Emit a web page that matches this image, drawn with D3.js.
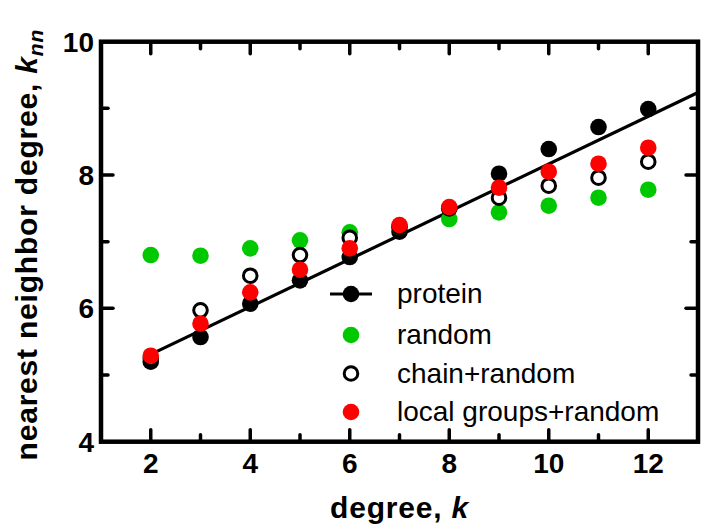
<!DOCTYPE html>
<html>
<head>
<meta charset="utf-8">
<script src="https://cdn.jsdelivr.net/npm/d3@7"></script>
<style>
  html, body { margin: 0; padding: 0; background: #fff; }
  svg { display: block; }
  text { font-family: "Liberation Sans", Arial, Helvetica, sans-serif; }
</style>
</head>
<body>
<svg id="chart" width="704" height="528"></svg>
<script>
// Degree k of each node class
const degree = [2, 3, 4, 5, 6, 7, 8, 9, 10, 11, 12];
// Average nearest-neighbor degree k_nn per model
const protein = [5.20, 5.57, 6.07, 6.42, 6.77, 7.15, 7.50, 8.02, 8.39, 8.72, 8.99];
const randomNet = [6.80, 6.79, 6.90, 7.02, 7.14, 7.22, 7.34, 7.44, 7.54, 7.66, 7.78];
const chainRandom = [5.25, 5.97, 6.49, 6.80, 7.06, 7.22, 7.50, 7.66, 7.84, 7.96, 8.20];
const localGroups = [5.29, 5.77, 6.24, 6.58, 6.90, 7.25, 7.52, 7.81, 8.05, 8.17, 8.41];
// Linear fit to the protein data: k_nn = fitAt2 + fitSlope * (k - 2)
const fitAt2 = 5.31;
const fitSlope = 0.357;
const fitRange = [2, 13];
// Axis ticks
const xMajor = [2, 4, 6, 8, 10, 12];
const xMinor = [3, 5, 7, 9, 11];
const yMajor = [4, 6, 8, 10];
const yMinor = [5, 7, 9];
const legendLabels = ["protein", "random", "chain+random", "local groups+random"];

const svg = d3.select("#chart");
const x = d3.scaleLinear().domain([1, 13]).range([101, 698]);
const y = d3.scaleLinear().domain([4, 10]).range([441.7, 41.7]);

const GREEN = "#00c800", RED = "#ff0000";
const R = 8.3;

const plot = svg.append("g");

// fit line
const fitLine = d3.line().x(d => x(d)).y(d => y(fitAt2 + fitSlope * (d - 2)));
plot.append("path")
  .attr("d", fitLine(fitRange))
  .attr("fill", "none").attr("stroke", "#000").attr("stroke-width", 3.2);

// protein points
plot.selectAll(".p").data(degree).join("circle")
  .attr("cx", d => x(d)).attr("cy", (d, i) => y(protein[i])).attr("r", R)
  .attr("fill", "#000");

// random network points
plot.selectAll(".g").data(degree).join("circle")
  .attr("cx", d => x(d)).attr("cy", (d, i) => y(randomNet[i])).attr("r", R)
  .attr("fill", GREEN);

// chain + random points (open)
plot.selectAll(".o").data(degree).join("circle")
  .attr("cx", d => x(d)).attr("cy", (d, i) => y(chainRandom[i])).attr("r", R - 1.5)
  .attr("fill", "#fff").attr("stroke", "#000").attr("stroke-width", 3);

// local groups + random points
plot.selectAll(".r").data(degree).join("circle")
  .attr("cx", d => x(d)).attr("cy", (d, i) => y(localGroups[i])).attr("r", R)
  .attr("fill", RED);

// frame
const [x0, x1] = x.range();
const [y0, y1] = y.range();
svg.append("rect")
  .attr("x", x0).attr("y", y1).attr("width", x1 - x0).attr("height", y0 - y1)
  .attr("fill", "none").attr("stroke", "#000").attr("stroke-width", 4.5);

// inward ticks on all four sides
const ticks = svg.append("g").attr("stroke", "#000").attr("stroke-width", 3.5).attr("stroke-linecap", "round");
const MAJ = 12, MIN = 7;
function xTicks(vals, len) {
  vals.forEach(v => {
    ticks.append("line").attr("x1", x(v)).attr("x2", x(v)).attr("y1", y0).attr("y2", y0 - len);
    ticks.append("line").attr("x1", x(v)).attr("x2", x(v)).attr("y1", y1).attr("y2", y1 + len);
  });
}
function yTicks(vals, len) {
  vals.forEach(v => {
    ticks.append("line").attr("y1", y(v)).attr("y2", y(v)).attr("x1", x0).attr("x2", x0 + len);
    ticks.append("line").attr("y1", y(v)).attr("y2", y(v)).attr("x1", x1).attr("x2", x1 - len);
  });
}
xTicks(xMajor, MAJ); xTicks(xMinor, MIN);
yTicks(yMajor.filter(v => v > 4 && v < 10), MAJ); yTicks(yMinor, MIN);

// tick labels
svg.append("g").selectAll("text").data(xMajor).join("text")
  .attr("x", d => x(d)).attr("y", 473)
  .attr("text-anchor", "middle")
  .attr("font-size", 28).attr("font-weight", "bold")
  .text(d => d);
svg.append("g").selectAll("text").data(yMajor).join("text")
  .attr("x", 94).attr("y", d => y(d) + 10)
  .attr("text-anchor", "end")
  .attr("font-size", 28).attr("font-weight", "bold")
  .text(d => d);

// axis titles
const xt = svg.append("text")
  .attr("x", (x0 + x1) / 2).attr("y", 518)
  .attr("text-anchor", "middle").attr("font-size", 30).attr("font-weight", "bold")
  .attr("letter-spacing", 0.8);
xt.append("tspan").text("degree, ");
xt.append("tspan").attr("font-style", "italic").text("k");

const yt = svg.append("text")
  .attr("transform", `translate(37,${(y0 + y1) / 2 + 3}) rotate(-90)`)
  .attr("text-anchor", "middle").attr("font-size", 30).attr("font-weight", "bold")
  .attr("letter-spacing", 0.8);
yt.append("tspan").text("nearest neighbor degree, ");
yt.append("tspan").attr("font-style", "italic").text("k");
yt.append("tspan").attr("font-style", "italic").attr("font-size", 21).attr("dy", 6).text("nn");

// legend
const legend = svg.append("g");
const lx = 351, ly = [294, 335, 373.5, 412], tx = 397;
legend.append("line").attr("x1", lx - 21).attr("x2", lx + 21).attr("y1", ly[0]).attr("y2", ly[0])
  .attr("stroke", "#000").attr("stroke-width", 3.2);
legend.append("circle").attr("cx", lx).attr("cy", ly[0]).attr("r", R).attr("fill", "#000");
legend.append("circle").attr("cx", lx).attr("cy", ly[1]).attr("r", R).attr("fill", GREEN);
legend.append("circle").attr("cx", lx).attr("cy", ly[2]).attr("r", R - 1.5)
  .attr("fill", "#fff").attr("stroke", "#000").attr("stroke-width", 3);
legend.append("circle").attr("cx", lx).attr("cy", ly[3]).attr("r", R).attr("fill", RED);
legend.selectAll("text").data(legendLabels).join("text")
  .attr("x", tx).attr("y", (d, i) => ly[i] + 9)
  .attr("font-size", 28)
  .text(d => d);
</script>
</body>
</html>
